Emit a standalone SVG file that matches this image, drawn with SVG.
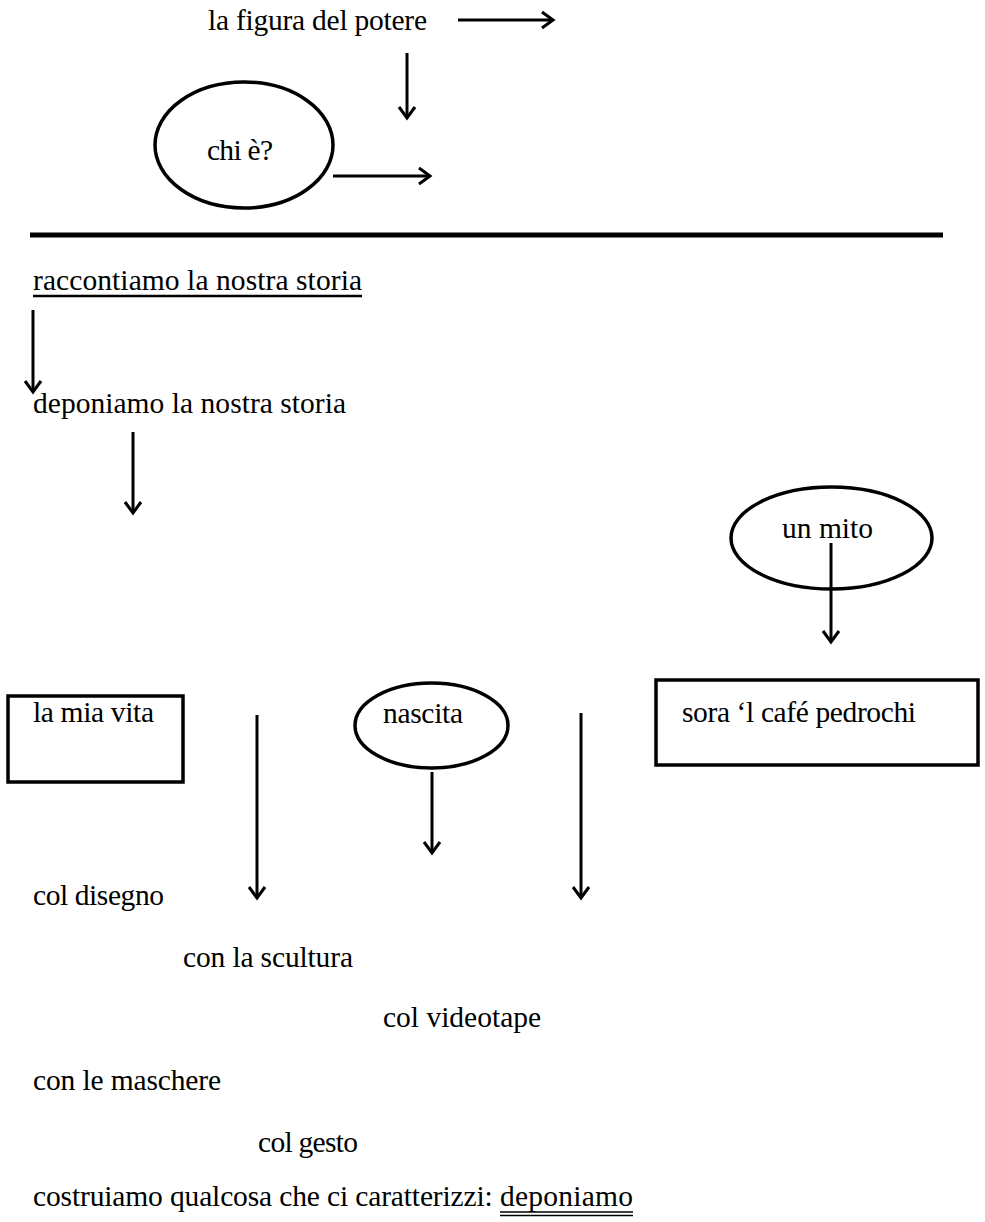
<svg xmlns="http://www.w3.org/2000/svg" width="985" height="1222" viewBox="0 0 985 1222">
<style>
text{font-family:"Liberation Serif","DejaVu Serif",serif;font-size:29.5px;fill:#000}
.shape{fill:none;stroke:#000;stroke-width:3.5}
.con{fill:none;stroke:#000;stroke-width:3}
.ul{stroke:#000;fill:none}
</style>
<defs>
<marker id="arr" markerUnits="userSpaceOnUse" markerWidth="16" markerHeight="20" viewBox="0 0 16 20" refX="13" refY="10" orient="auto">
<path d="M2,2 L13,10 L2,18" fill="none" stroke="#000" stroke-width="3"/>
</marker>
</defs>
<rect width="985" height="1222" fill="#fff"/>
<g id="potere"><text x="208" y="30" textLength="219">la figura del potere</text></g>
<g id="chi"><ellipse class="shape" cx="244" cy="145" rx="89" ry="63"/><text x="207" y="160" textLength="66">chi è?</text></g>
<g id="rule"><line x1="30" y1="235" x2="943" y2="235" stroke="#000" stroke-width="5"/></g>
<g id="raccontiamo"><text x="33" y="290" textLength="329">raccontiamo la nostra storia</text><line class="ul" x1="33" y1="296" x2="362" y2="296" stroke-width="2.5"/></g>
<g id="deponiamo"><text x="33" y="413" textLength="313">deponiamo la nostra storia</text></g>
<g id="mito"><ellipse class="shape" cx="831.5" cy="538" rx="100.5" ry="51"/><text x="782" y="538" textLength="91">un mito</text></g>
<g id="vita"><rect class="shape" x="8" y="696" width="175" height="86"/><text x="33" y="722" textLength="121">la mia vita</text></g>
<g id="nascita"><ellipse class="shape" cx="431.5" cy="725.5" rx="76.5" ry="42.5"/><text x="383" y="723" textLength="80">nascita</text></g>
<g id="pedrochi"><rect class="shape" x="656" y="680" width="322" height="85"/><text x="682" y="722" textLength="234">sora ‘l café pedrochi</text></g>
<g id="disegno"><text x="33" y="905" textLength="131">col disegno</text></g>
<g id="scultura"><text x="183" y="967" textLength="170">con la scultura</text></g>
<g id="videotape"><text x="383" y="1027">col videotape</text></g>
<g id="maschere"><text x="33" y="1090" textLength="188">con le maschere</text></g>
<g id="gesto"><text x="258" y="1152" textLength="100">col gesto</text></g>
<g id="costruiamo"><text y="1206"><tspan x="33" textLength="467">costruiamo qualcosa che ci caratterizzi: </tspan><tspan x="500" textLength="133">deponiamo</tspan></text>
<line class="ul" x1="500" y1="1212" x2="633" y2="1212" stroke-width="1.3"/>
<line class="ul" x1="500" y1="1215.5" x2="633" y2="1215.5" stroke-width="1.3"/></g>
<g id="connectors" class="con">
<line x1="458" y1="20" x2="553" y2="20" marker-end="url(#arr)"/>
<line x1="407" y1="53" x2="407" y2="118" marker-end="url(#arr)"/>
<line x1="333" y1="176" x2="430" y2="176" marker-end="url(#arr)"/>
<line x1="33" y1="310" x2="33" y2="392" marker-end="url(#arr)"/>
<line x1="133" y1="432" x2="133" y2="513" marker-end="url(#arr)"/>
<line x1="831" y1="543" x2="831" y2="642" marker-end="url(#arr)"/>
<line x1="257" y1="715" x2="257" y2="898" marker-end="url(#arr)"/>
<line x1="432" y1="772" x2="432" y2="853" marker-end="url(#arr)"/>
<line x1="581" y1="713" x2="581" y2="898" marker-end="url(#arr)"/>
</g>
</svg>
